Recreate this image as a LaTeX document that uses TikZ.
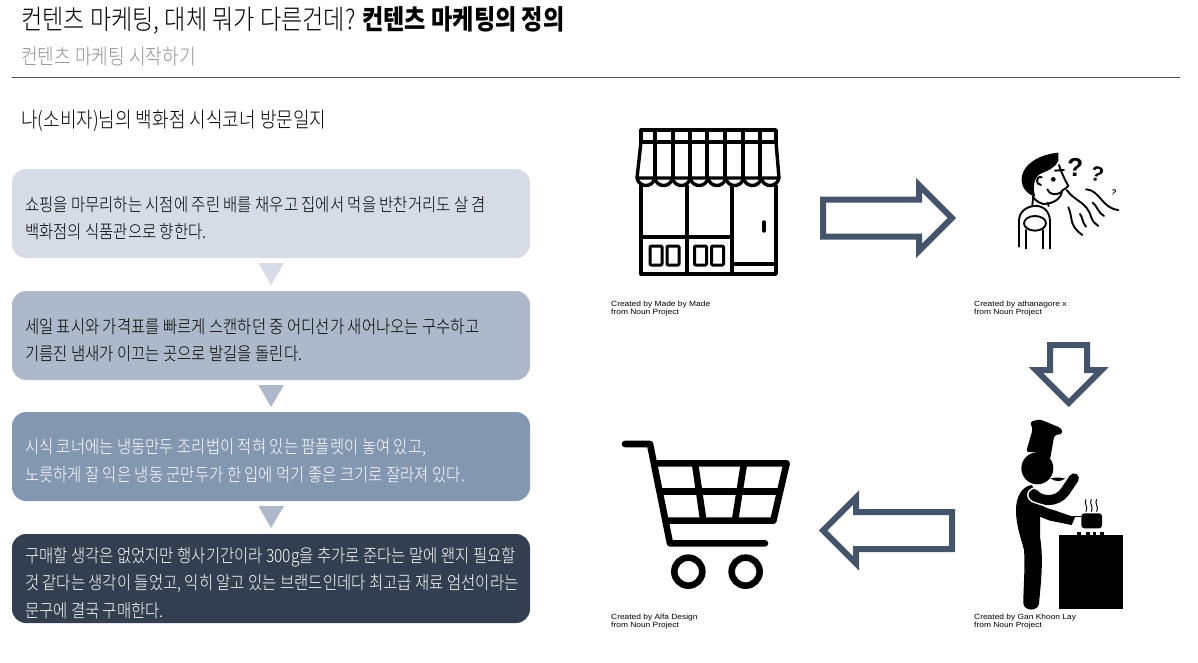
\documentclass[tikz,border=0pt]{standalone}
\usepackage{fontspec}
\setmainfont[FakeStretch=0.85]{Noto Sans CJK KR Light}
\newfontfamily\titlebold[FakeStretch=0.85]{Noto Sans CJK KR Black}
\newfontfamily\creditfont[FakeStretch=1.12]{Liberation Sans}
\newfontfamily\quesfont[BoldFont={Liberation Sans Bold}]{Liberation Sans}
\usetikzlibrary{shapes,arrows,positioning,calc}

\definecolor{slate}{HTML}{44546A}
\definecolor{stepA}{HTML}{D6DCE5}
\definecolor{stepB}{HTML}{ADB9CA}
\definecolor{stepC}{HTML}{8497B0}
\definecolor{stepD}{HTML}{333F50}

\tikzset{
  stepbox/.style={rounded corners=14pt, minimum width=518pt, minimum height=89pt, inner sep=0pt},
  steptext/.style={inner sep=0pt, align=left, yshift=-4.5pt,
    font=\fontsize{18.2}{27.6}\selectfont},
  blockarrow/.style={single arrow, draw=slate, line width=6pt, fill=white, inner xsep=0pt,
    inner ysep=15.5pt, outer sep=0pt, minimum height=128.8pt, single arrow tip angle=90,
    single arrow head extend=14.3pt, anchor=tail},
  credit/.style={anchor=north west, inner sep=0pt, align=left,
    font=\creditfont\fontsize{7.5}{8.2}\selectfont},
  icon/.style={line width=3.4pt, line join=round, line cap=round},
  smell/.style={line width=1.9pt, line cap=round, line join=round}
}

\begin{document}
\begin{tikzpicture}[x=1pt, y=-1pt]
\useasboundingbox (0,0) rectangle (1198,663);

% ================= HEADER =================
\node[anchor=west, inner sep=0pt, font=\fontsize{27.2}{30}\selectfont] (title) at (21,20)
{컨텐츠 마케팅, 대체 뭐가 다른건데? {\titlebold 컨텐츠 마케팅의 정의}};
\node[anchor=west, inner sep=0pt, text=gray!85, font=\fontsize{21.3}{24}\selectfont] (subtitle) at (21,56.5)
{컨텐츠 마케팅 시작하기};
\draw[slate, line width=1pt] (12,78) -- (1180,78);
\node[anchor=west, inner sep=0pt, font=\fontsize{21.2}{24}\selectfont] (diary) at (21,121)
{나(소비자)님의 백화점 시식코너 방문일지};

% ================= LEFT: STEPS =================
\node[stepbox, fill=stepA] (stepOne) at (271,213.5) {};
\node[steptext, right=13pt of stepOne.west] (stepOneText)
{쇼핑을 마무리하는 시점에 주린 배를 채우고 집에서 먹을 반찬거리도 살 겸\\
백화점의 식품관으로 향한다.};
\node[stepbox, fill=stepB] (stepTwo) at (271,335.5) {};
\node[steptext, right=13pt of stepTwo.west] (stepTwoText)
{세일 표시와 가격표를 빠르게 스캔하던 중 어디선가 새어나오는 구수하고\\
기름진 냄새가 이끄는 곳으로 발길을 돌린다.};
\node[stepbox, fill=stepC] (stepThree) at (271,456.5) {};
\node[steptext, text=white, right=13pt of stepThree.west] (stepThreeText)
{시식 코너에는 냉동만두 조리법이 적혀 있는 팜플렛이 놓여 있고,\\
노릇하게 잘 익은 냉동 군만두가 한 입에 먹기 좋은 크기로 잘라져 있다.};
\node[stepbox, fill=stepD] (stepFour) at (271,578.5) {};
\node[steptext, text=white, right=13pt of stepFour.west] (stepFourText)
{구매할 생각은 없었지만 행사기간이라 300g을 추가로 준다는 말에 왠지 필요할\\
것 같다는 생각이 들었고, 익히 알고 있는 브랜드인데다 최고급 재료 엄선이라는\\
문구에 결국 구매한다.};

% Triangles between the steps
\foreach \ty/\tc in {263/stepA,385/stepB,506/stepB}
  \fill[\tc] (258.5,\ty) -- (284,\ty) -- (271,\ty+22) -- cycle;

% ================= RIGHT: BLOCK ARROWS =================
\node[blockarrow] (arrowSmell) at (823,218) {};
\node[blockarrow, minimum height=57.8pt, rotate=-90] (arrowCook) at (1068.7,345) {};
\node[blockarrow, rotate=180] (arrowBuy) at (952,530.5) {};

% ================= STORE =================
\begin{scope}[icon]
\draw (641,130) rectangle (776,142);
\draw (641,142) -- (637,178) (776,142) -- (779,178) (637,178) -- (779,178);
\foreach \sx in {655,673,690,707,725,743,760}
  \draw (\sx,130) -- (\sx,178);
\foreach \sx in {637,654.75,672.5,690.25,708,725.75,743.5,761.25}
  \draw (\sx,178) .. controls (\sx+2,188) and (\sx+15.75,188) .. (\sx+17.75,178);
\draw (641,186) -- (641,274) -- (776,274) -- (776,186);
\draw (687,186) -- (687,274) (732,186) -- (732,274);
\draw (641,237) -- (732,237) (732,264) -- (776,264);
\draw (764,222) -- (764,231);
\foreach \wx in {650,667,694.5,711.5}
  \draw[rounded corners=1pt, line width=3pt] (\wx,246) rectangle (\wx+12,265);
\end{scope}
\node[credit] (creditStore) at (611,301) {Created by Made by Made\\from Noun Project};

% ================= SMELLING MAN =================
\begin{scope}[shift={(960,130)}, x=0.3333pt, y=-0.3333pt]
\fill (295,68) .. controls (250,72) and (190,95) .. (185,145)
  .. controls (183,175) and (205,195) .. (226,200)
  .. controls (218,175) and (220,145) .. (240,132)
  .. controls (262,122) and (285,115) .. (295,92) -- cycle;
\draw[smell] (297,105) .. controls (305,130) and (315,150) .. (325,168)
  .. controls (320,175) and (310,178) .. (306,182)
  .. controls (305,205) and (280,222) .. (250,222)
  .. controls (235,218) and (225,210) .. (218,200);
\draw[smell] (262,178) .. controls (268,195) and (290,198) .. (306,184);
\draw[smell] (285,122) -- (312,120);
\fill (280,148) circle (7);
\draw[smell] (245,142) .. controls (228,135) and (225,165) .. (243,165);
\draw[smell] (219,205) -- (217,225) (262,218) -- (266,228);
\draw[smell] (177,350) -- (177,272) .. controls (177,245) and (200,230) .. (222,228)
  .. controls (250,225) and (270,245) .. (270,275) -- (270,355);
\draw[smell] (225,280) ellipse (33 and 22);
\draw[smell] (197,300) -- (197,355) (250,300) -- (250,355);
\draw[smell] (320,180) .. controls (345,215) and (380,215) .. (393,260) .. controls (398,275) and (405,282) .. (415,288);
\draw[smell] (378,178) .. controls (420,180) and (425,235) .. (475,240);
\draw[smell] (325,232) .. controls (340,265) and (325,285) .. (367,315);
\draw[smell] (360,252) .. controls (370,265) and (365,275) .. (378,290);
\draw[smell] (398,218) .. controls (410,225) and (415,250) .. (432,258);
\node[inner sep=0pt, font=\quesfont\fontsize{26}{26}\selectfont\bfseries] (quesOne) at (346,113) {?};
\node[inner sep=0pt, rotate=-15, font=\quesfont\fontsize{21}{21}\selectfont\bfseries] (quesTwo) at (412,133) {?};
\node[inner sep=0pt, rotate=-15, font=\quesfont\fontsize{8}{8}\selectfont\bfseries] (quesThree) at (462,186) {?};
\end{scope}
\node[credit] (creditMan) at (974,301) {Created by athanagore x\\from Noun Project};

% ================= CHEF =================
\begin{scope}[shift={(960,410)}, x=0.3333pt, y=-0.3333pt]
% Hat and head
\fill[rounded corners=3pt] (210,35) -- (240,28) -- (305,55) -- (308,72) -- (283,75) -- (270,150)
  .. controls (250,130) and (225,125) .. (198,127) -- (218,58) -- cycle;
\fill (232,175) circle (48);
% Spoon
\fill (272,205) .. controls (285,202) and (300,202) .. (315,205) .. controls (305,216) and (285,216) .. (272,205);
% Body and leg
\fill (215,225) .. controls (185,230) and (168,260) .. (168,300) .. controls (168,350) and (185,390) .. (192,420)
  .. controls (196,470) and (190,530) .. (190,580) .. controls (192,605) and (235,605) .. (237,580)
  .. controls (245,500) and (250,440) .. (240,380) -- (240,320) -- (270,332) -- (335,345) -- (345,322) -- (280,300)
  .. controls (260,295) and (250,290) .. (240,282) -- (225,240) -- cycle;
% Arm lifting the spoon
\draw[line width=10pt, line cap=round, line join=round] (222,252) .. controls (240,275) and (290,280) .. (315,245) -- (342,205);
\draw[white, line width=1.4pt] (232,232) .. controls (195,235) and (195,270) .. (225,278) .. controls (245,285) and (265,290) .. (290,297);
% Pot
\fill[rounded corners=3pt] (364,310) -- (426,310) -- (426,355) -- (364,355) -- cycle;
\draw[line width=1.6pt] (330,320) -- (364,320);
\foreach \sx in {378,394,410}
  \draw[line width=1pt] (\sx,268) .. controls (\sx-8,280) and (\sx+8,290) .. (\sx,305);
% Stove
\fill (297,375) rectangle (488,598);
\foreach \kx in {352,378,398,420}
  \fill (\kx,366) rectangle (\kx+11,376);
\end{scope}
\node[credit] (creditChef) at (974,614) {Created by Gan Khoon Lay\\from Noun Project};

% ================= CART =================
\begin{scope}[shift={(600,430)}, x=0.3333pt, y=-0.3333pt]
\begin{scope}[line width=6.6pt, line join=round, line cap=round]
\draw (75,42) -- (150,42) -- (210,340) -- (495,340);
\draw (165,100) -- (560,100) -- (520,272) -- (198,272);
\draw (180,185) -- (538,185);
\draw (285,100) -- (310,272) (432,100) -- (405,272);
\draw (265,425) circle (42) (437,425) circle (42);
\end{scope}
\end{scope}
\node[credit] (creditCart) at (611,614) {Created by Alfa Design\\from Noun Project};

\end{tikzpicture}
\end{document}
